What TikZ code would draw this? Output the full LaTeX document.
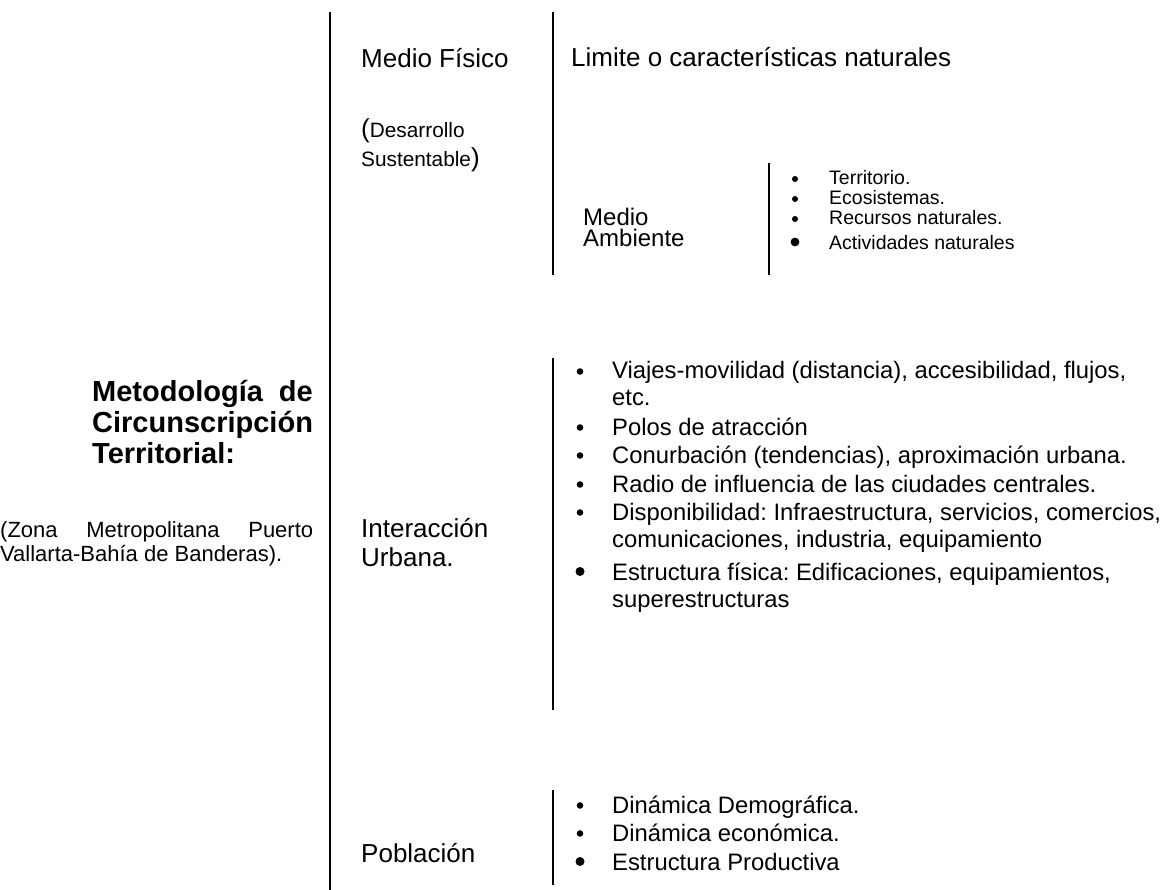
\documentclass[tikz,border=0pt]{standalone}
\usepackage{fontspec}
\setmainfont{Liberation Sans}
\frenchspacing
\begin{document}
\begin{tikzpicture}[x=1pt,y=-1pt,
  lbl/.style={inner sep=0pt, anchor=base west, font=\fontsize{26}{29}\selectfont},
  txt/.style={inner sep=0pt, anchor=base west, font=\fontsize{23.8}{27}\selectfont},
  sm/.style={inner sep=0pt, anchor=base west, font=\fontsize{19.5}{21}\selectfont},
  ttl/.style={inner sep=0pt, anchor=base west, font=\fontsize{29}{33}\selectfont\bfseries},
  ttlr/.style={inner sep=0pt, anchor=base east, font=\fontsize{29}{33}\selectfont\bfseries},
  note/.style={inner sep=0pt, anchor=base west, font=\fontsize{22}{24}\selectfont},
  sep/.style={line width=2pt, black}]
\useasboundingbox (0,0) rectangle (1167,890);
\fill[white] (0,0) rectangle (1167,890);

% separator lines
\coordinate (a0) at (330,12);  \coordinate (a1) at (330,890);
\coordinate (b0) at (553,12);  \coordinate (b1) at (553,275);
\coordinate (c0) at (769,163); \coordinate (c1) at (769,275);
\coordinate (d0) at (553,358); \coordinate (d1) at (553,710);
\coordinate (e0) at (553,790); \coordinate (e1) at (553,885);
\draw[sep] (a0) -- (a1);
\draw[sep] (b0) -- (b1);
\draw[sep] (c0) -- (c1);
\draw[sep] (d0) -- (d1);
\draw[sep] (e0) -- (e1);

% left title
\node[ttl]  (t1a) at (92,401) {Metodología};
\node[ttlr] (t1b) at (313,401) {de};
\node[ttl]  (t2) at (92,432) {Circunscripción};
\node[ttl]  (t3) at (92,463) {Territorial:};
\node[note] (n1) at (0,537) {\hbox to 313pt{(Zona\hfill Metropolitana\hfill Puerto}};
\node[note] (n2) at (0,561) {Vallarta-Bahía de Banderas).};

% Medio fisico
\node[lbl] (mf) at (361,68) {Medio Físico};
\node[lbl] (lim) at (571,67) {Limite o características naturales};
\node[lbl] (ds1) at (361,138) {(\fontsize{20.8}{22}\selectfont Desarrollo};
\node[lbl, font=\fontsize{20.8}{22}\selectfont] (ds2) at (361,167) {Sustentable\fontsize{26}{29}\selectfont)};
\node[lbl, font=\fontsize{24}{26}\selectfont] (ma1) at (583,226) {Medio};
\node[lbl, font=\fontsize{24}{26}\selectfont] (ma2) at (583,247) {Ambiente};

% sub list
\foreach \y/\t [count=\i] in {185/Territorio., 205/Ecosistemas., 225/Recursos naturales.}{
  \fill (795,\y-6) circle (3pt);
  \node[sm] (sub\i) at (829,\y) {\t};
}
\fill (795,242) circle (4.4pt);
\node[sm] (sub4) at (829,250) {Actividades naturales};

% Interaccion urbana
\node[lbl] (iu1) at (361,537) {Interacción};
\node[lbl] (iu2) at (361,566) {Urbana.};
\foreach \y in {379,435,463,492,520}{ \fill (580,\y-7.5) circle (3.3pt); }
\fill (580,571.5) circle (4.5pt);
\node[txt] (i1) at (612,379) {Viajes-movilidad (distancia), accesibilidad, flujos,};
\node[txt] (i1b) at (612,405) {etc.};
\node[txt] (i2) at (612,435) {Polos de atracción};
\node[txt] (i3) at (612,463) {Conurbación (tendencias), aproximación urbana.};
\node[txt] (i4) at (612,492) {Radio de influencia de las ciudades centrales.};
\node[txt] (i5) at (612,520) {Disponibilidad: Infraestructura, servicios, comercios,};
\node[txt] (i5b) at (612,547) {comunicaciones, industria, equipamiento};
\node[txt] (i6) at (612,580) {Estructura física: Edificaciones, equipamientos,};
\node[txt] (i6b) at (612,607) {superestructuras};

% Poblacion
\node[lbl] (po) at (361,862) {Población};
\foreach \y in {813,841}{ \fill (580,\y-7.5) circle (3.3pt); }
\fill (580,861.5) circle (4.5pt);
\node[txt] (p1) at (612,813) {Dinámica Demográfica.};
\node[txt] (p2) at (612,841) {Dinámica económica.};
\node[txt] (p3) at (612,870) {Estructura Productiva};
\end{tikzpicture}
\end{document}
